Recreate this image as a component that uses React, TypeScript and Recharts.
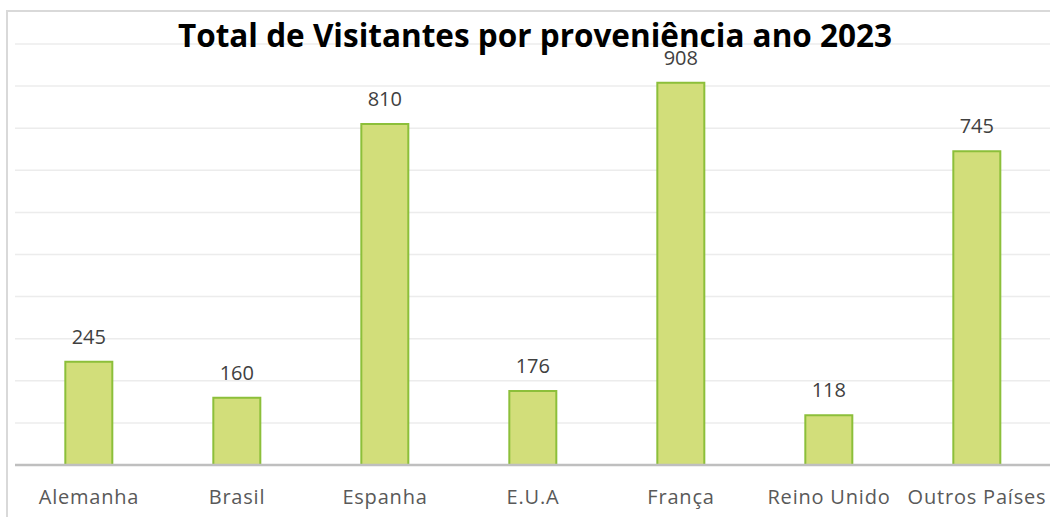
import { BarChart, Bar, XAxis, YAxis, CartesianGrid, LabelList } from 'recharts';

const countries = ['Alemanha', 'Brasil', 'Espanha', 'E.U.A', 'França', 'Reino Unido', 'Outros Países'];
const visitors = [245, 160, 810, 176, 908, 118, 745];
const yTicks = [0, 100, 200, 300, 400, 500, 600, 700, 800, 900, 1000];

const data = countries.map((name, i) => ({ name, value: visitors[i] }));

export default function App() {
  return (
    <div style={{ position: 'fixed', left: 0, top: 0, width: 1050, height: 517, background: '#fff', overflow: 'hidden' }}>
      <div
        style={{
          position: 'absolute',
          left: 6,
          top: 10,
          width: 1060,
          height: 530,
          border: '2px solid #d9d9d9',
        }}
      />
      <div
        style={{
          position: 'absolute',
          left: 0,
          top: 15,
          width: 1070,
          textAlign: 'center',
          fontFamily: '"Open Sans", sans-serif',
          fontWeight: 700,
          fontSize: 31.5,
          lineHeight: '40px',
          color: '#000',
          zIndex: 2,
        }}
      >
        Total de Visitantes por proveniência ano 2023
      </div>
      <BarChart
        width={1051}
        height={517}
        data={data}
        margin={{ top: 44, right: 0, left: 15, bottom: 0 }}
        barCategoryGap="34%"
        style={{ position: 'absolute', left: 0, top: 0 }}
      >
        <CartesianGrid vertical={false} stroke="#ececec" strokeWidth={1.5} />
        <YAxis hide domain={[0, 1000]} ticks={yTicks} />
        <XAxis
          dataKey="name"
          axisLine={{ stroke: '#bfbfbf', strokeWidth: 2.5 }}
          tickLine={false}
          interval={0}
          height={52}
          tickMargin={19}
          tick={{ fill: '#595959', fontSize: 20, fontFamily: '"Open Sans", sans-serif', letterSpacing: 0.8 }}
        />
        <Bar dataKey="value" fill="#d2de7a" stroke="#8cbf3a" strokeWidth={2} isAnimationActive={false}>
          <LabelList
            dataKey="value"
            position="top"
            offset={18}
            fill="#404040"
            fontSize={20}
            fontFamily='"Open Sans", sans-serif'
          />
        </Bar>
      </BarChart>
    </div>
  );
}
